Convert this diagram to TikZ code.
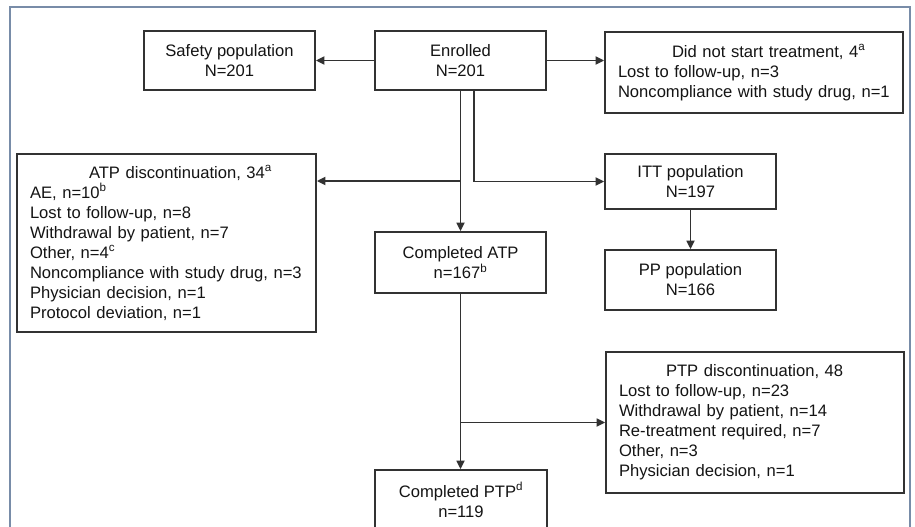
\documentclass[tikz,border=0pt]{standalone}
\usepackage{fontspec}
\setmainfont{Liberation Sans}
\usetikzlibrary{arrows.meta,calc}
\definecolor{boxc}{RGB}{50,50,50}
\definecolor{txtc}{RGB}{20,20,20}
\definecolor{framec}{RGB}{120,140,168}
\newcommand\supr[1]{\textsuperscript{#1}}
\begin{document}
\begin{tikzpicture}[x=1pt,y=-1pt,
  every node/.style={font=\fontsize{16.6pt}{20pt}\selectfont, text=txtc},
  box/.style={draw=boxc, line width=1.8pt, inner sep=0pt, align=center, minimum width=171pt},
  listbox/.style={draw=boxc, line width=1.8pt, inner ysep=0pt, inner xsep=13pt, align=left},
  conn/.style={draw=boxc, line width=1.7pt},
  arr/.style={conn, -{Triangle[length=8.5pt,width=8pt]}}
]
\useasboundingbox (0,0) rectangle (915,527);
\fill[white] (0,0) rectangle (915,527);
\draw[framec, line width=1.6pt] (10,560) -- (10,7) -- (910,7) -- (910,560);

\node[box, minimum height=59pt] (safety) at (229.5,60.5) {Safety population\\N=201};
\node[box, minimum height=59pt] (enr) at (460.5,60.5) {Enrolled\\N=201};
\node[listbox, text width=272pt, minimum height=81pt] (dns) at (754,72.5)
  {\hspace*{54pt}Did not start treatment, 4\supr{a}\\Lost to follow-up, n=3\\\mbox{Noncompliance with study drug, n=1}};
\node[listbox, text width=273pt, minimum height=178pt] (atp) at (166.5,243)
  {\hspace*{59pt}ATP discontinuation, 34\supr{a}\\AE, n=10\supr{b}\\Lost to follow-up, n=8\\Withdrawal by patient, n=7\\Other, n=4\supr{c}\\\mbox{Noncompliance with study drug, n=3}\\Physician decision, n=1\\Protocol deviation, n=1};
\node[box, minimum height=55pt] (itt) at (690.5,181.5) {ITT population\\N=197};
\node[box, minimum height=60pt] (pp) at (690.5,280) {PP population\\N=166};
\node[box, minimum height=61pt] (catp) at (460.5,262.5) {Completed ATP\\n=167\supr{b}};
\node[listbox, text width=272pt, minimum height=141pt] (ptp) at (755,422.5)
  {\hspace*{47pt}PTP discontinuation, 48\\Lost to follow-up, n=23\\Withdrawal by patient, n=14\\Re-treatment required, n=7\\Other, n=3\\Physician decision, n=1};
\node[box, minimum width=172pt, minimum height=60pt] (cptp) at (461,500) {Completed PTP\supr{d}\\n=119};

\coordinate (ya) at (0,181);
\draw[arr] (enr.west) -- (safety.east);
\draw[arr] (enr.east) -- (enr.east -| dns.west);
\draw[arr] (enr.south) -- (catp.north);
\draw[arr] (enr.south |- ya) -- (atp.east |- ya);
\draw[arr] ([xshift=13.5pt]enr.south) |- (itt.west);
\draw[arr] (itt.south) -- (pp.north);
\draw[arr] (catp.south) -- (catp.south |- cptp.north);
\draw[arr] (catp.south |- ptp.west) -- (ptp.west);
\end{tikzpicture}
\end{document}
